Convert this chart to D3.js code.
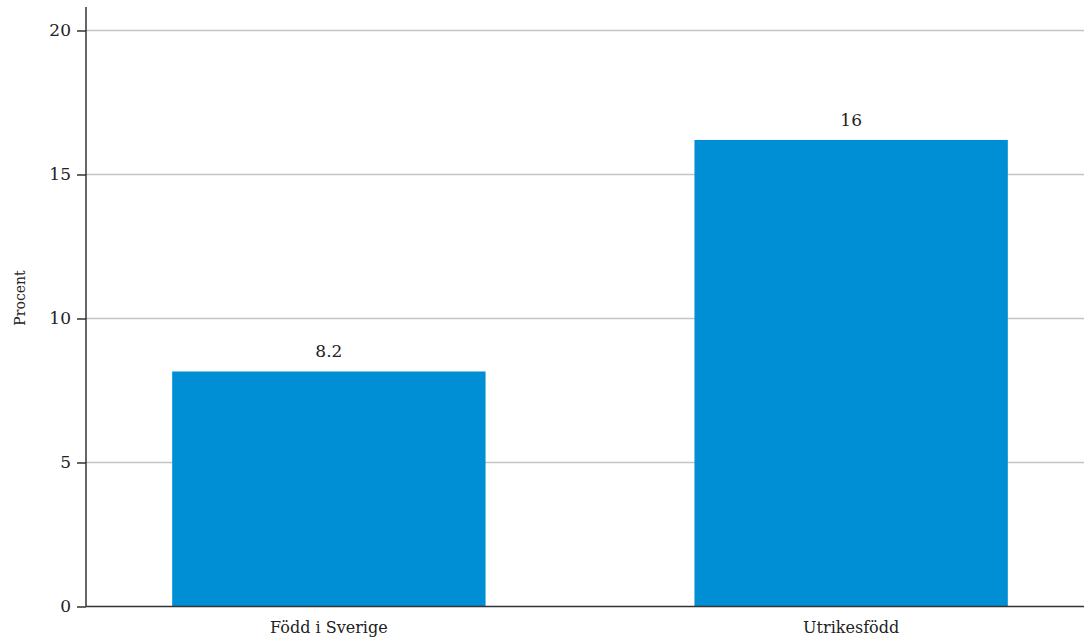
<!DOCTYPE html>
<html><head><meta charset="utf-8">
<script src="https://cdn.jsdelivr.net/npm/d3@7"></script>
<style>body{margin:0;background:#fff}svg{display:block}text{font-family:"DejaVu Serif",serif;fill:#222}</style>
</head><body><svg id="c" width="1084" height="643"></svg>
<script>
const categories = ["Född i Sverige", "Utrikesfödd"];
const values = [8.16, 16.2];
const yTicks = [0, 5, 10, 15, 20];
const yLabel = "Procent";

const svg = d3.select("#c");
const x = d3.scaleBand().domain(categories).range([86, 1094]).paddingInner(0.4).paddingOuter(0.165);
const y = d3.scaleLinear().domain([0, 20]).range([606.5, 30.5]);

// gridlines
svg.append("g").selectAll("line").data(yTicks.filter(d => d > 0)).join("line")
  .attr("x1", 86).attr("x2", 1084)
  .attr("y1", d => y(d)).attr("y2", d => y(d))
  .attr("stroke", "#c4c4c4").attr("stroke-width", 1.3);

// bars
svg.append("g").selectAll("rect").data(values).join("rect")
  .attr("x", (d, i) => x(categories[i]))
  .attr("width", x.bandwidth())
  .attr("y", d => y(d))
  .attr("height", d => y(0) - y(d))
  .attr("fill", "#008fd5");

// value labels
const fmt = d3.format(".2r");
svg.append("g").selectAll("text").data(values).join("text")
  .attr("x", (d, i) => x(categories[i]) + x.bandwidth() / 2)
  .attr("y", d => y(d) - 14)
  .attr("text-anchor", "middle")
  .attr("font-size", 17)
  .text(d => fmt(d));

// y axis
const yAxis = svg.append("g").attr("transform", "translate(86,0)")
  .call(d3.axisLeft(y).tickValues(yTicks).tickSize(9).tickPadding(6).tickFormat(d3.format("d")));
yAxis.select(".domain").attr("d", "M0,7V606.5").attr("stroke", "#333").attr("stroke-width", 1.5);
yAxis.selectAll(".tick line").attr("stroke", "#333").attr("stroke-width", 1.5);
yAxis.selectAll(".tick text").attr("font-size", 17).attr("font-family", "DejaVu Serif").attr("fill", "#222");

// x axis
const xAxis = svg.append("g").attr("transform", "translate(0,606.5)")
  .call(d3.axisBottom(x).tickSize(0).tickPadding(15));
xAxis.select(".domain").attr("d", "M86,0H1084").attr("stroke", "#333").attr("stroke-width", 1.5);
xAxis.selectAll(".tick text").attr("font-size", 16).attr("font-family", "DejaVu Serif").attr("fill", "#222");

// y label
svg.append("text").attr("transform", "translate(25,298) rotate(-90)")
  .attr("text-anchor", "middle").attr("font-size", 14).text(yLabel);
</script></body></html>
